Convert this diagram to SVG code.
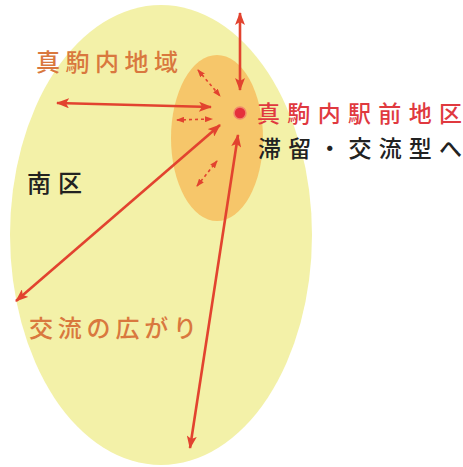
<svg xmlns="http://www.w3.org/2000/svg" width="463" height="467" viewBox="0 0 463 467">
<style>
.t{font-family:"Noto Sans CJK JP","Noto Sans CJK SC",sans-serif;font-size:24px;font-weight:500}
.st{font-size:23px}
.a{stroke:#e2432f;stroke-width:2.6;fill:none;marker-start:url(#h);marker-end:url(#h)}
.s{stroke:#e2432f;stroke-width:1.6;fill:none;stroke-dasharray:3 3;marker-start:url(#hs);marker-end:url(#hs)}
</style>
<defs>
<marker id="h" viewBox="0 0 13 10" refX="12" refY="5" markerWidth="13" markerHeight="10" markerUnits="userSpaceOnUse" orient="auto-start-reverse"><path d="M0,0 L13,5 L0,10 L3,5 Z" fill="#e2432f"/></marker>
<marker id="hs" viewBox="0 0 8 6" refX="7" refY="3" markerWidth="8" markerHeight="6" markerUnits="userSpaceOnUse" orient="auto-start-reverse"><path d="M0,0 L8,3 L0,6 Z" fill="#e2432f"/></marker>
</defs>
<rect width="463" height="467" fill="#ffffff"/>
<g id="region-south">
<ellipse cx="161" cy="235" rx="151" ry="230" fill="#f3f1a8"/>
</g>
<g id="region-station">
<ellipse cx="217" cy="138" rx="46" ry="83" fill="#f6c66a"/>
</g>
<g id="connectors">
<line class="a" x1="240" y1="90" x2="240" y2="13"/>
<line class="a" x1="211" y1="107" x2="57" y2="103"/>
<line class="a" x1="220" y1="125" x2="16" y2="301"/>
<line class="a" x1="238" y1="135" x2="190" y2="448"/>
<line class="s" x1="198" y1="70" x2="220" y2="96"/>
<line class="s" x1="177" y1="120" x2="212" y2="119"/>
<line class="s" x1="197" y1="186" x2="217" y2="161"/>
</g>
<g id="station">
<circle cx="240" cy="113" r="6" fill="#e5303c" stroke="#f08a6a" stroke-width="1.5"/>
<text class="t st" x="257" y="122" fill="#e0393f" textLength="205">真駒内駅前地区</text>
<text class="t st" x="258" y="157" fill="#222222" textLength="204">滞留・交流型へ</text>
</g>
<g id="label-makomanai">
<text class="t" x="36" y="71" fill="#d9783e" textLength="142">真駒内地域</text>
</g>
<g id="label-minami">
<text class="t" x="27" y="192" fill="#222222" textLength="55">南区</text>
</g>
<g id="label-koryu">
<text class="t" x="29" y="337" fill="#d9783e" textLength="168">交流の広がり</text>
</g>
</svg>
